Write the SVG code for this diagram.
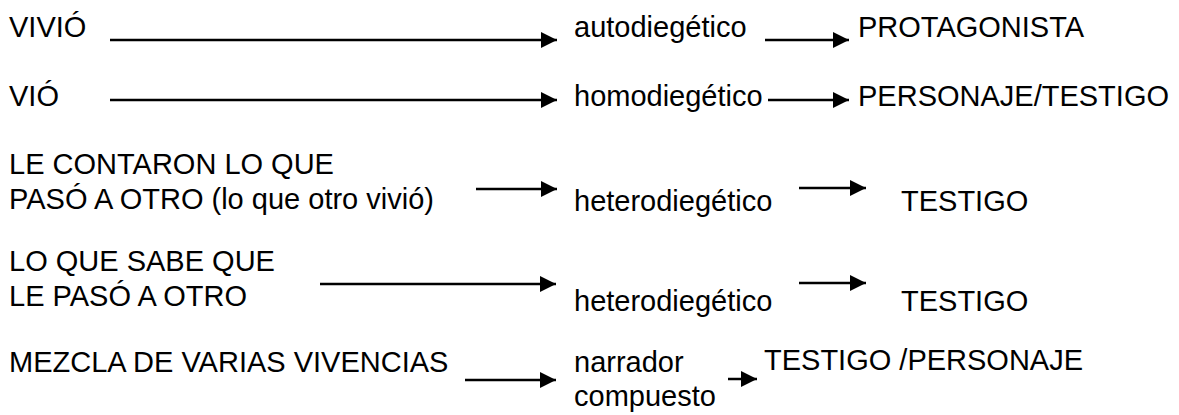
<svg xmlns="http://www.w3.org/2000/svg" width="1179" height="415" viewBox="0 0 1179 415">
<style>
text{font-family:"Liberation Sans",Arial,sans-serif;font-size:29px;fill:#000}
.c line{stroke:#000;stroke-width:2.5;marker-end:url(#ah)}
</style>
<defs>
<marker id="ah" markerUnits="userSpaceOnUse" markerWidth="17" markerHeight="17" refX="16" refY="8" orient="auto" viewBox="0 0 17 17">
<path d="M0,0 L16,8 L0,16 z" fill="#000"/>
</marker>
</defs>
<rect width="1179" height="415" fill="#fff"/>
<g id="n-vivio"><text x="9" y="37">VIVIÓ</text></g>
<g id="n-autodiegetico"><text x="574" y="37">autodiegético</text></g>
<g id="n-protagonista"><text x="858" y="37">PROTAGONISTA</text></g>
<g id="n-vio"><text x="9" y="106">VIÓ</text></g>
<g id="n-homodiegetico"><text x="574" y="106">homodiegético</text></g>
<g id="n-personaje-testigo"><text x="858" y="106">PERSONAJE/TESTIGO</text></g>
<g id="n-le-contaron"><text x="9" y="174">LE CONTARON LO QUE</text><text x="9" y="209">PASÓ A OTRO (lo que otro vivió)</text></g>
<g id="n-hetero1"><text x="574" y="211">heterodiegético</text></g>
<g id="n-testigo1"><text x="901" y="211">TESTIGO</text></g>
<g id="n-lo-que-sabe"><text x="9" y="271">LO QUE SABE QUE</text><text x="9" y="306">LE PASÓ A OTRO</text></g>
<g id="n-hetero2"><text x="574" y="311">heterodiegético</text></g>
<g id="n-testigo2"><text x="901" y="311">TESTIGO</text></g>
<g id="n-mezcla"><text x="9" y="372">MEZCLA DE VARIAS VIVENCIAS</text></g>
<g id="n-narrador"><text x="574" y="372">narrador</text><text x="574" y="406">compuesto</text></g>
<g id="n-testigo-personaje"><text x="764" y="370">TESTIGO /PERSONAJE</text></g>
<g id="connectors" class="c">
<line x1="110" y1="40" x2="557" y2="40"/>
<line x1="765" y1="40" x2="849" y2="40"/>
<line x1="110" y1="100" x2="557" y2="100"/>
<line x1="768" y1="100" x2="849" y2="100"/>
<line x1="476" y1="189" x2="557" y2="189"/>
<line x1="799" y1="188" x2="866" y2="188"/>
<line x1="320" y1="284" x2="556" y2="284"/>
<line x1="799" y1="283" x2="866" y2="283"/>
<line x1="465" y1="380" x2="556" y2="380"/>
<line x1="728" y1="379" x2="757" y2="379"/>
</g>
</svg>
